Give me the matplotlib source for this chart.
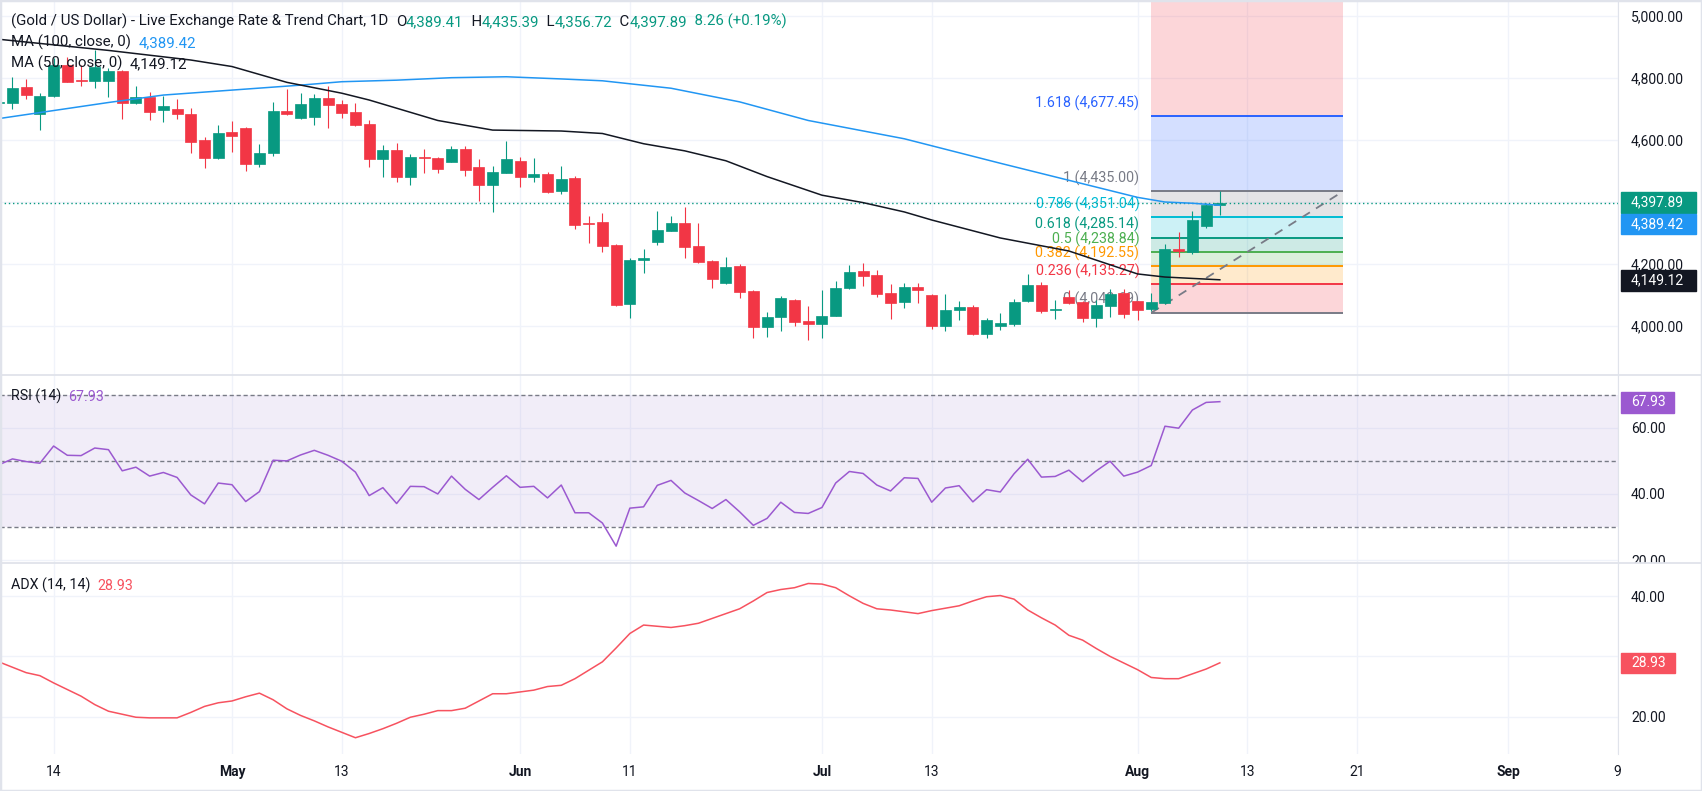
import numpy as np
import pandas as pd
import matplotlib
matplotlib.use("Agg")
import matplotlib.pyplot as plt
from matplotlib.patches import Rectangle
from matplotlib.lines import Line2D
from matplotlib.transforms import Bbox, TransformedBbox

plt.rcParams['font.family'] = ['Roboto', 'DejaVu Sans']

# ---- data (XAU/USD daily) ----
first_bar, last_bar = '2026-04-08', '2026-08-11'

opens = [4718, 4720, 4771, 4685, 4743, 4842, 4792, 4791, 4791, 4823,
         4720, 4738, 4697, 4700, 4684, 4600, 4543, 4626, 4639, 4523,
         4559, 4694, 4672, 4675, 4736, 4716, 4690, 4652, 4540, 4568,
         4482, 4545, 4542, 4530, 4571, 4513, 4456, 4495, 4532, 4482,
         4490, 4436, 4477, 4332, 4336, 4261, 4072, 4212, 4272, 4307,
         4332, 4258, 4210, 4140, 4194, 4113, 3998, 4030, 4084, 4016,
         4007, 4033, 4124, 4177, 4165, 4106, 4078, 4125, 4100, 4000,
         4051, 4061, 3974, 4000, 4007, 4081, 4132, 4053, 4093, 4079,
         4027, 4066, 4107, 4081, 4054, 4073, 4248, 4239, 4323, 4389.41]
highs = [4728, 4804, 4796, 4751, 4865, 4869, 4842, 4890, 4832, 4826,
         4774, 4754, 4742, 4731, 4702, 4609, 4647, 4661, 4642, 4587,
         4723, 4764, 4751, 4748, 4774, 4729, 4718, 4665, 4584, 4590,
         4555, 4571, 4546, 4581, 4581, 4539, 4516, 4597, 4544, 4542,
         4496, 4516, 4484, 4354, 4365, 4263, 4219, 4248, 4371, 4355,
         4384, 4332, 4213, 4224, 4200, 4116, 4045, 4098, 4087, 4065,
         4116, 4145, 4197, 4202, 4181, 4136, 4139, 4138, 4103, 4103,
         4081, 4068, 4025, 4043, 4086, 4167, 4141, 4084, 4116, 4081,
         4084, 4118, 4118, 4082, 4106, 4264, 4304, 4371, 4396, 4435.39]
lows = [4712, 4700, 4732, 4632, 4739, 4787, 4775, 4769, 4740, 4669,
        4716, 4665, 4659, 4668, 4558, 4511, 4539, 4562, 4501, 4514,
        4549, 4682, 4669, 4648, 4640, 4672, 4646, 4514, 4482, 4466,
        4455, 4493, 4495, 4529, 4485, 4404, 4369, 4493, 4449, 4466,
        4428, 4426, 4314, 4269, 4240, 4066, 4027, 4172, 4261, 4306,
        4220, 4204, 4124, 4137, 4091, 3962, 3966, 3985, 4001, 3955,
        3962, 4031, 4121, 4130, 4095, 4024, 4058, 4075, 3990, 3985,
        4019, 3971, 3962, 3987, 4000, 4078, 4043, 4023, 4071, 4014,
        3998, 4030, 4025, 4019, 4049, 4071, 4224, 4231, 4317, 4356.72]
closes = [4723, 4767, 4746, 4742, 4842, 4788, 4789, 4835, 4823, 4718,
          4738, 4691, 4710, 4683, 4595, 4543, 4622, 4614, 4522, 4557,
          4694, 4685, 4717, 4736, 4714, 4688, 4649, 4540, 4568, 4482,
          4546, 4543, 4506, 4571, 4503, 4456, 4497, 4539, 4482, 4490,
          4433, 4474, 4327, 4329, 4259, 4069, 4213, 4219, 4310, 4332,
          4256, 4207, 4153, 4190, 4111, 3998, 4029, 4090, 4014, 4007,
          4032, 4123, 4174, 4162, 4104, 4075, 4125, 4116, 4000, 4052,
          4061, 3974, 4019, 4009, 4076, 4132, 4048, 4055, 4073, 4026,
          4068, 4103, 4039, 4053, 4076, 4247, 4242, 4342, 4390, 4397.89]

rsi = [48.8, 50.6, 49.8, 49.3, 54.5, 51.7, 51.6, 53.9, 53.4, 47.0,
       48.1, 45.4, 46.5, 45.0, 39.7, 37.0, 43.3, 42.8, 37.7, 40.7,
       50.2, 50.0, 51.8, 53.2, 51.7, 49.9, 46.6, 39.5, 41.9, 37.1,
       42.3, 42.2, 40.0, 45.4, 41.4, 38.3, 42.0, 45.5, 42.0, 42.3,
       38.8, 42.7, 34.3, 34.3, 31.2, 24.2, 35.7, 36.1, 42.6, 44.1,
       40.3, 38.0, 35.6, 38.3, 34.6, 30.5, 32.6, 37.5, 34.4, 34.1,
       35.9, 43.3, 46.8, 46.2, 42.7, 40.9, 44.9, 44.7, 37.5, 41.8,
       42.5, 37.6, 41.3, 40.6, 46.1, 50.5, 45.1, 45.3, 47.2, 43.7,
       47.0, 49.9, 45.4, 46.6, 48.6, 60.5, 59.9, 65.4, 67.7, 67.93]

adx = [29.1, 28.2, 27.3, 26.8, 25.6, 24.5, 23.4, 22.0, 20.9, 20.4,
       19.9, 19.8, 19.8, 19.8, 20.7, 21.7, 22.3, 22.6, 23.3, 23.9,
       22.8, 21.3, 20.2, 19.3, 18.3, 17.4, 16.5, 17.2, 18.0, 18.9,
       19.9, 20.4, 21.0, 21.0, 21.4, 22.6, 23.8, 23.8, 24.1, 24.4,
       25.0, 25.2, 26.3, 27.7, 29.1, 31.4, 33.8, 35.2, 35.0, 34.8,
       35.1, 35.5, 36.3, 37.1, 37.9, 39.2, 40.6, 41.1, 41.4, 42.1,
       42.0, 41.4, 40.05, 38.8, 37.9, 37.7, 37.4, 37.1, 37.6, 38.0,
       38.4, 39.2, 39.9, 40.1, 39.5, 37.7, 36.4, 35.2, 33.5, 32.7,
       31.3, 30.0, 28.9, 27.8, 26.5, 26.3, 26.3, 27.1, 27.9, 28.93]

# moving averages, read at a subset of bars
ma100_dates = ['2026-04-08', '2026-04-20', '2026-04-24', '2026-05-01', '2026-05-08',
               '2026-05-13', '2026-05-19', '2026-05-25', '2026-05-29', '2026-06-04',
               '2026-06-09', '2026-06-16', '2026-06-23', '2026-06-30', '2026-07-09',
               '2026-07-20', '2026-07-27', '2026-08-03', '2026-08-05', '2026-08-07',
               '2026-08-11']
ma100 = [4669, 4721, 4745, 4761, 4777, 4788, 4793, 4801, 4804, 4797,
         4791, 4767, 4723, 4663, 4604, 4525, 4470, 4415, 4400, 4396, 4389.42]
ma50_dates = ['2026-04-08', '2026-04-20', '2026-04-28', '2026-05-01', '2026-05-07',
              '2026-05-13', '2026-05-15', '2026-05-22', '2026-05-28', '2026-06-04',
              '2026-06-09', '2026-06-12', '2026-06-17', '2026-06-22', '2026-06-25',
              '2026-07-01', '2026-07-06', '2026-07-09', '2026-07-13', '2026-07-20',
              '2026-07-27', '2026-08-03', '2026-08-05', '2026-08-11']
ma50 = [4925, 4889, 4858, 4837, 4786, 4751, 4729, 4663, 4632, 4629,
        4621, 4588, 4565, 4533, 4482, 4422, 4398, 4368, 4342, 4284,
        4242, 4168, 4158, 4149.12]

# fibonacci retracement
fib_ratios = [0, 0.236, 0.382, 0.5, 0.618, 0.786, 1, 1.618, 2.618]
fib_prices = [4042.69, 4135.27, 4192.55, 4238.84, 4285.14, 4351.04, 4435.00, 4677.45, 5069.76]
fib_colors = ['#787b86', '#f23645', '#ff9800', '#4caf50', '#089981', '#00bcd4',
              '#787b86', '#2962ff', '#f23645']
fib_from, fib_to = '2026-08-04', '2026-08-20'

tick_dates = ['2026-04-14', '2026-05-01', '2026-05-13', '2026-06-01', '2026-06-11',
              '2026-07-01', '2026-07-13', '2026-08-03', '2026-08-13', '2026-08-21',
              '2026-09-01', '2026-09-09']
tick_labels = ['14', 'May', '13', 'Jun', '11', 'Jul', '13', 'Aug', '13', '21', 'Sep', '9']

last_o, last_h, last_l, last_c, chg, chg_pct = 4389.41, 4435.39, 4356.72, 4397.89, 8.26, 0.19
ma100_last, ma50_last, rsi_last, adx_last = 4389.42, 4149.12, 67.93, 28.93

GREEN, RED = '#089981', '#f23645'
BLUE, DARK = '#2196f3', '#131722'
PURPLE, ADXC = '#9b59d0', '#f7525f'
GRID, BORDER = '#f0f3fa', '#e0e3eb'

# ---- time axis: trading days, then calendar days in the future area ----
bar_dates = pd.bdate_range(first_bar, last_bar)
all_dates = bar_dates.append(pd.date_range(pd.Timestamp(last_bar) + pd.Timedelta(days=1), '2026-09-15'))
pos = {d: i for i, d in enumerate(all_dates)}
def xof(s):
    return pos[pd.Timestamp(s)]
x = np.arange(len(bar_dates))

W, H = 1702, 791
fig = plt.figure(figsize=(W / 100, H / 100), dpi=100, facecolor='white')
def fx(px): return px / W
def fy(py): return 1 - py / H

ax_p = fig.add_axes([0, fy(375), fx(1618), 375 / H])
ax_r = fig.add_axes([0, fy(563), fx(1618), 188 / H], sharex=ax_p)
ax_a = fig.add_axes([0, fy(754), fx(1618), 191 / H], sharex=ax_p)

tick_pos = [xof(d) for d in tick_dates]
for ax in (ax_p, ax_r, ax_a):
    for side in ('top', 'left', 'bottom'):
        ax.spines[side].set_visible(False)
    ax.spines['right'].set_color(BORDER)
    ax.set_axisbelow(True)
    ax.grid(True, color=GRID, lw=1)
    ax.yaxis.tick_right()
    ax.tick_params(axis='y', length=0, pad=9.4, labelsize=10, labelcolor=DARK)
    ax.tick_params(axis='x', length=0, pad=8, labelsize=10, labelcolor=DARK)
    ax.set_xticks(tick_pos)
ax_p.tick_params(labelbottom=False)
ax_r.tick_params(labelbottom=False)
ax_a.set_xticklabels(tick_labels)
for lbl in ax_a.get_xticklabels():
    if lbl.get_text() in ('May', 'Jun', 'Jul', 'Aug', 'Sep'):
        lbl.set_fontweight('bold')
ax_p.set_xlim(0.093, 118.02)

# ---- price pane ----
ax_p.set_ylim(3842, 5051.6)
pticks = [4000, 4200, 4400, 4600, 4800, 5000]
ax_p.set_yticks(pticks)
# 4,400.00 sits under the last-price labels, so it is left blank
ax_p.set_yticklabels(['' if v == 4400 else f'{v:,.2f}' for v in pticks])

o, h, l, c = (np.array(a, dtype=float) for a in (opens, highs, lows, closes))
cols = np.where(c >= o, GREEN, RED)
ax_p.vlines(x, l, h, colors=cols, lw=0.8, zorder=4)
ax_p.bar(x, c - o, bottom=o, width=0.8, color=cols, edgecolor=cols, lw=0.5, zorder=5)

fa, fb = xof(fib_from), xof(fib_to)
for i in range(len(fib_prices) - 1):
    ax_p.fill_between([fa, fb], fib_prices[i], fib_prices[i + 1], color=fib_colors[i + 1],
                      alpha=0.2, lw=0, zorder=1)
for r, v, col in zip(fib_ratios, fib_prices, fib_colors):
    if v > 5051.6:
        continue
    ax_p.hlines(v, fa, fb, color=col, lw=1.4, zorder=2)
    ax_p.annotate(f'{r:g} ({v:,.2f})', xy=(fa, v), xytext=(-8.6, 9.4), textcoords='offset points',
                  ha='right', va='center', color=col, fontsize=10.3, zorder=2)
ax_p.plot([fa, fb], [fib_prices[0], fib_prices[6]], color='#787b86', lw=1.3,
          ls=(0, (5, 4)), zorder=3)

ax_p.axhline(last_c, color=GREEN, lw=1, ls=(0, (1, 2)), zorder=3)
ax_p.plot([xof(d) for d in ma100_dates], ma100, color=BLUE, lw=1.1, zorder=6)
ax_p.plot([xof(d) for d in ma50_dates], ma50, color=DARK, lw=1.1, zorder=6)

# ---- RSI pane ----
ax_r.set_ylim(19.1, 76)
ax_r.set_yticks([20, 40, 60])
ax_r.set_yticklabels(['20.00', '40.00', '60.00'])
ax_r.axhspan(30, 70, color='#7e57c2', alpha=0.1, lw=0)
for lv in (70, 50, 30):
    ax_r.axhline(lv, color='#787b86', lw=1, ls=(0, (3, 2)))
ax_r.plot(x, rsi, color=PURPLE, lw=1.1)
clip = TransformedBbox(Bbox([[0.9, fy(563)], [1.0, fy(375)]]), fig.transFigure)
for lbl in ax_r.get_yticklabels():
    lbl.set_clip_box(clip)
    lbl.set_clip_on(True)

# ---- ADX pane ----
ax_a.set_ylim(13.8, 45.5)
ax_a.set_yticks([20, 30, 40])
# 30.00 is hidden behind the current-value label
ax_a.set_yticklabels(['20.00', '', '40.00'])
ax_a.plot(x, adx, color=ADXC, lw=1.1)

# ---- legends and header, on a transparent overlay ----
ax_o = fig.add_axes([0, 0, 1, 1], zorder=10)
ax_o.set_axis_off()

def rainbow(px, py, parts, size=10.8):
    t = ax_o.text(fx(px), fy(py), parts[0][0], color=parts[0][1], fontsize=size,
                  va='center', ha='left', transform=fig.transFigure)
    for s, col in parts[1:]:
        t = ax_o.annotate(s, xy=(1, 0), xycoords=t, xytext=(0, 0), textcoords='offset points',
                          color=col, fontsize=size, va='bottom', ha='left', annotation_clip=False)
    return t

rainbow(11, 21.7, [('(Gold / US Dollar) - Live Exchange Rate & Trend Chart, 1D  ', DARK),
                   ('O', DARK), (f'{last_o:,.2f}', GREEN), ('  H', DARK), (f'{last_h:,.2f}', GREEN),
                   ('  L', DARK), (f'{last_l:,.2f}', GREEN), ('  C', DARK), (f'{last_c:,.2f}', GREEN),
                   (f'  {chg:.2f} (+{chg_pct:.2f}%)', GREEN)])
rainbow(11, 42.3, [('MA (100, close, 0)  ', DARK), (f'{ma100_last:,.2f}', BLUE)])
rainbow(11, 63.3, [('MA (50, close, 0)  ', DARK), (f'{ma50_last:,.2f}', DARK)])
rainbow(11, 396, [('RSI (14)  ', DARK), (f'{rsi_last:.2f}', PURPLE)], size=10.3)
rainbow(11, 585, [('ADX (14, 14)  ', DARK), (f'{adx_last:.2f}', ADXC)], size=10.3)

def value_box(yc, text, color, width):
    ax_o.add_patch(Rectangle((fx(1621), fy(yc + 10.3)), width / W, 20.6 / H,
                             transform=fig.transFigure, color=color, zorder=5))
    ax_o.text(fx(1631), fy(yc), text, color='white', fontsize=10, va='center', ha='left',
              transform=fig.transFigure, zorder=6)

value_box(202.5, f'{last_c:,.2f}', GREEN, 75)
value_box(224, f'{ma100_last:,.2f}', BLUE, 75)
value_box(280.3, f'{ma50_last:,.2f}', DARK, 75)
value_box(402.3, f'{rsi_last:.2f}', PURPLE, 53)
value_box(663, f'{adx_last:.2f}', ADXC, 54)

# pane separators and outer frame
for yy in (375, 563):
    ax_o.add_line(Line2D([0, 1], [fy(yy), fy(yy)], transform=fig.transFigure, color=BORDER, lw=1.3))
ax_o.add_patch(Rectangle((0, 0), 1, 1, transform=fig.transFigure, fill=False,
                         edgecolor=BORDER, lw=2.5, zorder=7))

fig.savefig('out.png', dpi=100, facecolor='white')
